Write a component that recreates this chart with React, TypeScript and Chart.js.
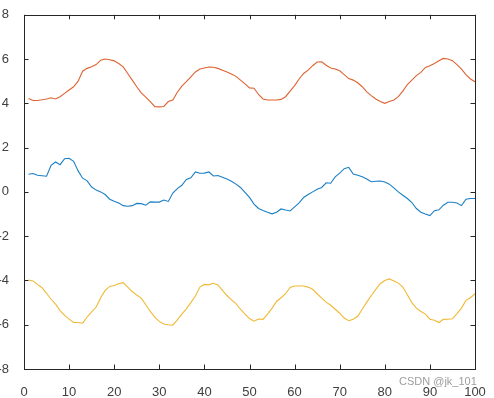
import React, { useEffect, useRef } from "react";
import { Chart, registerables } from "chart.js";

Chart.register(...registerables);

const orangeValues = [
  4.22, 4.13, 4.13, 4.16, 4.2, 4.25, 4.2, 4.3, 4.45, 4.6,
  4.75, 5.0, 5.45, 5.58, 5.65, 5.75, 5.95, 6.0, 5.97, 5.92,
  5.8, 5.65, 5.35, 5.05, 4.75, 4.47, 4.28, 4.08, 3.85, 3.84,
  3.86, 4.08, 4.15, 4.5, 4.78, 4.98, 5.2, 5.42, 5.55, 5.6,
  5.64, 5.63, 5.58, 5.5, 5.42, 5.33, 5.22, 5.05, 4.88, 4.7,
  4.68, 4.4, 4.2, 4.15, 4.15, 4.15, 4.18, 4.3, 4.55, 4.8,
  5.1, 5.35, 5.5, 5.7, 5.87, 5.88, 5.72, 5.6, 5.55, 5.47,
  5.3, 5.12, 5.05, 4.93, 4.75, 4.52, 4.35, 4.2, 4.08, 4.0,
  4.08, 4.15, 4.3, 4.55, 4.85, 5.05, 5.25, 5.4, 5.62, 5.7,
  5.8, 5.92, 6.03, 6.0, 5.93, 5.75, 5.55, 5.3, 5.1, 4.98,
];

const blueValues = [
  0.8, 0.83, 0.75, 0.73, 0.71, 1.2, 1.35, 1.23, 1.5, 1.52,
  1.38, 0.95, 0.62, 0.5, 0.22, 0.08, 0.0, -0.12, -0.33, -0.42,
  -0.5, -0.62, -0.65, -0.62, -0.52, -0.53, -0.6, -0.45, -0.46, -0.46,
  -0.37, -0.43, -0.05, 0.15, 0.3, 0.56, 0.64, 0.9, 0.84, 0.85,
  0.9, 0.72, 0.74, 0.66, 0.58, 0.48, 0.35, 0.2, -0.02, -0.25,
  -0.55, -0.75, -0.84, -0.92, -0.99, -0.92, -0.77, -0.82, -0.86, -0.68,
  -0.5, -0.25, -0.12, 0.0, 0.12, 0.2, 0.41, 0.39, 0.68, 0.85,
  1.05, 1.11, 0.81, 0.75, 0.68, 0.58, 0.46, 0.48, 0.49, 0.45,
  0.35, 0.18, 0.0, -0.15, -0.3, -0.48, -0.75, -0.92, -1.0, -1.07,
  -0.85, -0.81, -0.6, -0.47, -0.47, -0.5, -0.62, -0.33, -0.3, -0.3,
];

const yellowValues = [
  -3.98, -4.02, -4.18, -4.33, -4.58, -4.85, -5.07, -5.36, -5.58, -5.75,
  -5.9, -5.9, -5.93, -5.65, -5.42, -5.2, -4.78, -4.45, -4.27, -4.23,
  -4.15, -4.1, -4.3, -4.5, -4.66, -4.8, -5.1, -5.4, -5.66, -5.85,
  -5.97, -6.0, -6.02, -5.78, -5.52, -5.28, -5.0, -4.7, -4.3, -4.18,
  -4.2, -4.13, -4.2, -4.45, -4.68, -4.88, -5.05, -5.3, -5.52, -5.72,
  -5.84, -5.74, -5.76, -5.52, -5.25, -4.95, -4.78, -4.6, -4.32, -4.25,
  -4.25, -4.25, -4.3, -4.4, -4.6, -4.8, -4.98, -5.12, -5.3, -5.48,
  -5.7, -5.82, -5.75, -5.62, -5.3, -4.98, -4.68, -4.4, -4.15, -4.0,
  -3.93, -4.02, -4.12, -4.3, -4.65, -5.0, -5.25, -5.4, -5.52, -5.75,
  -5.8, -5.9, -5.76, -5.75, -5.73, -5.5, -5.25, -4.9, -4.78, -4.6,
];

const xTicks = [0, 10, 20, 30, 40, 50, 60, 70, 80, 90, 100];
const yTicks = [-8, -6, -4, -2, 0, 2, 4, 6, 8];

const toPoints = (vals: number[]) => vals.map((v, i) => ({ x: i + 1, y: v }));

const AXIS_COLOR = "#262626";

const framePlugin = {
  id: "matlabFrame",
  afterDatasetsDraw(chart: any) {
    const { ctx, chartArea, scales } = chart;
    const { left, right, top, bottom } = chartArea;
    const xs = scales.x;
    const ys = scales.y;
    const L = 4.5;
    ctx.save();
    ctx.strokeStyle = AXIS_COLOR;
    ctx.lineWidth = 1;
    ctx.beginPath();
    xTicks.forEach((v) => {
      const px = Math.round(xs.getPixelForValue(v)) + 0.5;
      ctx.moveTo(px, bottom);
      ctx.lineTo(px, bottom - L);
      ctx.moveTo(px, top);
      ctx.lineTo(px, top + L);
    });
    yTicks.forEach((v) => {
      const py = Math.round(ys.getPixelForValue(v)) + 0.5;
      ctx.moveTo(left, py);
      ctx.lineTo(left + L, py);
      ctx.moveTo(right, py);
      ctx.lineTo(right - L, py);
    });
    ctx.stroke();
    ctx.strokeRect(
      Math.round(left) + 0.5,
      Math.round(top) + 0.5,
      Math.round(right) - Math.round(left),
      Math.round(bottom) - Math.round(top)
    );
    ctx.restore();
  },
};

export default function App() {
  const canvasRef = useRef<HTMLCanvasElement | null>(null);

  useEffect(() => {
    if (!canvasRef.current) return;
    const font = { family: "'Liberation Sans', Arial, Helvetica, sans-serif", size: 13 };
    const chart = new Chart(canvasRef.current, {
      type: "line",
      data: {
        datasets: [
          {
            label: "orange",
            data: toPoints(orangeValues),
            borderColor: "#DF6231",
            borderWidth: 1.1,
            pointRadius: 0,
            fill: false,
            tension: 0,
          },
          {
            label: "blue",
            data: toPoints(blueValues),
            borderColor: "#1A7FC4",
            borderWidth: 1.1,
            pointRadius: 0,
            fill: false,
            tension: 0,
          },
          {
            label: "yellow",
            data: toPoints(yellowValues),
            borderColor: "#EFB933",
            borderWidth: 1.1,
            pointRadius: 0,
            fill: false,
            tension: 0,
          },
        ],
      },
      options: {
        responsive: false,
        animation: false,
        devicePixelRatio: 1,
        layout: { padding: { top: 13, right: 19, left: 0, bottom: 0 } },
        plugins: {
          legend: { display: false },
          tooltip: { enabled: false },
        },
        scales: {
          x: {
            type: "linear",
            min: 0,
            max: 100,
            grid: { display: false },
            border: { display: false },
            afterBuildTicks: (scale: any) => {
              scale.ticks = xTicks.map((v) => ({ value: v }));
            },
            ticks: {
              color: "#404040",
              font,
              padding: 8,
              maxRotation: 0,
              autoSkip: false,
            },
            afterFit: (scale: any) => {
              scale.height = 29;
            },
          },
          y: {
            type: "linear",
            min: -8,
            max: 8,
            grid: { display: false },
            border: { display: false },
            afterBuildTicks: (scale: any) => {
              scale.ticks = yTicks.map((v) => ({ value: v }));
            },
            ticks: {
              color: "#404040",
              font,
              padding: 7,
              autoSkip: false,
            },
            afterFit: (scale: any) => {
              scale.width = 24;
            },
          },
        },
      },
      plugins: [framePlugin],
    });
    return () => chart.destroy();
  }, []);

  return (
    <div style={{ position: "fixed", left: 0, top: 0, width: 494, height: 398, background: "#ffffff" }}>
      <canvas ref={canvasRef} width={494} height={398} style={{ display: "block" }} />
      <div
        style={{
          position: "absolute",
          left: 399,
          top: 375,
          fontFamily: "'Liberation Sans', Arial, sans-serif",
          fontSize: 11,
          color: "rgba(140,140,140,0.85)",
          whiteSpace: "nowrap",
          pointerEvents: "none",
        }}
      >
        CSDN @jk_101
      </div>
    </div>
  );
}
